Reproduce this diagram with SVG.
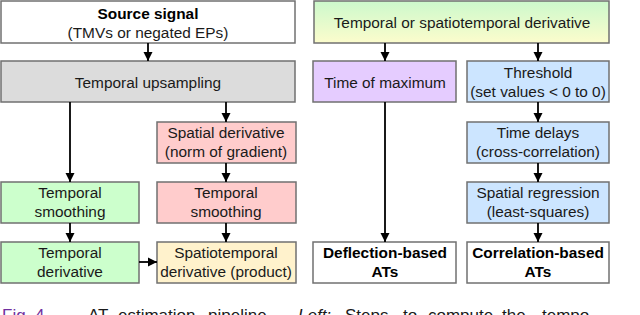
<svg xmlns="http://www.w3.org/2000/svg" width="640" height="315" viewBox="0 0 640 315">
<defs>
<linearGradient id="gy" x1="0" y1="0" x2="0" y2="1">
<stop offset="0" stop-color="#ccf9cc"/>
<stop offset="1" stop-color="#fcfccc"/>
</linearGradient>
<marker id="ah" markerWidth="10" markerHeight="10" refX="9" refY="5" orient="auto" markerUnits="userSpaceOnUse">
<path d="M0,0.5 L9,5 L0,9.5 Z" fill="#000"/>
</marker>
<style>
rect{stroke:#707070;stroke-width:1.5}
text{font-family:"Liberation Sans",Arial,sans-serif;font-size:15.4px;fill:#1a1a1a;text-anchor:middle}
.b{font-weight:bold;fill:#000}
.c line{stroke:#000;stroke-width:1.8}
.cap{text-anchor:start;font-size:17px}
</style>
</defs>
<rect x="0" y="0" width="640" height="315" fill="#fff" style="stroke:none"/>
<g id="source"><rect x="1" y="1" width="294" height="42" fill="#fff"/>
<text x="148" y="19" class="b">Source signal</text><text x="148" y="38">(TMVs or negated EPs)</text></g>
<g id="upsampling"><rect x="1" y="61" width="294" height="41" fill="#dcdcdc"/>
<text x="148" y="88">Temporal upsampling</text></g>
<g id="spatialderiv"><rect x="157" y="122" width="139" height="41" fill="#ffcccc"/>
<text x="226" y="138">Spatial derivative</text><text x="226" y="157">(norm of gradient)</text></g>
<g id="tsmooth1"><rect x="1" y="182" width="138" height="41" fill="#ccffcc"/>
<text x="70" y="198">Temporal</text><text x="70" y="217">smoothing</text></g>
<g id="tsmooth2"><rect x="157" y="182" width="139" height="41" fill="#ffcccc"/>
<text x="226" y="198">Temporal</text><text x="226" y="217">smoothing</text></g>
<g id="tderiv"><rect x="1" y="242" width="138" height="41" fill="#ccffcc"/>
<text x="70" y="258">Temporal</text><text x="70" y="277">derivative</text></g>
<g id="stderiv"><rect x="157" y="242" width="139" height="41" fill="#fff2cc"/>
<text x="226" y="258">Spatiotemporal</text><text x="226" y="277">derivative (product)</text></g>
<g id="input"><rect x="314" y="1" width="295" height="42" fill="url(#gy)"/>
<text x="462" y="28">Temporal or spatiotemporal derivative</text></g>
<g id="timemax"><rect x="313" y="61" width="143" height="41" fill="#e5ccff"/>
<text x="385" y="88">Time of maximum</text></g>
<g id="threshold"><rect x="467" y="61" width="142" height="41" fill="#cce5ff"/>
<text x="538" y="78">Threshold</text><text x="538" y="97">(set values &lt; 0 to 0)</text></g>
<g id="delays"><rect x="467" y="122" width="142" height="41" fill="#cce5ff"/>
<text x="538" y="138">Time delays</text><text x="538" y="157">(cross-correlation)</text></g>
<g id="regression"><rect x="467" y="182" width="142" height="41" fill="#cce5ff"/>
<text x="538" y="198">Spatial regression</text><text x="538" y="217">(least-squares)</text></g>
<g id="deflection"><rect x="313" y="242" width="143" height="41" fill="#fff"/>
<text x="385" y="258" class="b">Deflection-based</text><text x="385" y="277" class="b">ATs</text></g>
<g id="correlation"><rect x="467" y="242" width="142" height="41" fill="#fff"/>
<text x="538" y="258" class="b">Correlation-based</text><text x="538" y="277" class="b">ATs</text></g>
<g class="c" id="connectors">
<line x1="148" y1="43" x2="148" y2="61" marker-end="url(#ah)"/>
<line x1="70" y1="102" x2="70" y2="182" marker-end="url(#ah)"/>
<line x1="226" y1="102" x2="226" y2="122" marker-end="url(#ah)"/>
<line x1="226" y1="163" x2="226" y2="182" marker-end="url(#ah)"/>
<line x1="70" y1="223" x2="70" y2="242" marker-end="url(#ah)"/>
<line x1="226" y1="223" x2="226" y2="242" marker-end="url(#ah)"/>
<line x1="139" y1="262" x2="157" y2="262" marker-end="url(#ah)"/>
<line x1="385" y1="43" x2="385" y2="61" marker-end="url(#ah)"/>
<line x1="538" y1="43" x2="538" y2="61" marker-end="url(#ah)"/>
<line x1="385" y1="102" x2="385" y2="242" marker-end="url(#ah)"/>
<line x1="538" y1="102" x2="538" y2="122" marker-end="url(#ah)"/>
<line x1="538" y1="163" x2="538" y2="182" marker-end="url(#ah)"/>
<line x1="538" y1="223" x2="538" y2="242" marker-end="url(#ah)"/>
</g>
<text class="cap" y="321"><tspan x="2" fill="#7030a0">Fig. 4.</tspan><tspan x="88">AT</tspan><tspan x="118">estimation</tspan><tspan x="208">pipeline.</tspan><tspan x="298" font-style="italic">Left:</tspan><tspan x="345">Steps</tspan><tspan x="403">to</tspan><tspan x="428">compute</tspan><tspan x="502">the</tspan><tspan x="542">tempo</tspan></text>
</svg>
